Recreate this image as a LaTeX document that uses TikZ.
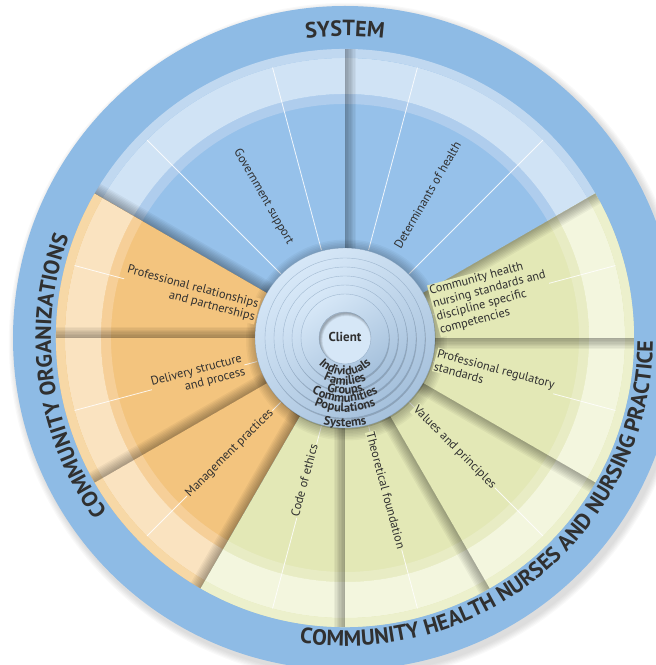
\documentclass[tikz,border=0pt]{standalone}
\usepackage{fontspec}
\setmainfont{PT Sans}
\usetikzlibrary{decorations.text}
\definecolor{ringblue}{HTML}{8EBBE5}
\definecolor{sbM}{HTML}{96C1EA}
\definecolor{sbA}{HTML}{C0D8F0}
\definecolor{sbB}{HTML}{D0E3F5}
\definecolor{sbC}{HTML}{AFCDED}
\definecolor{coM}{HTML}{F3C47E}
\definecolor{coA}{HTML}{F7D8A6}
\definecolor{coB}{HTML}{FAE3C0}
\definecolor{coC}{HTML}{F6CF98}
\definecolor{cgM}{HTML}{E3E8B6}
\definecolor{cgA}{HTML}{ECF0CC}
\definecolor{cgB}{HTML}{F3F6DE}
\definecolor{cgC}{HTML}{E8ECC4}
\definecolor{txt}{HTML}{303030}
\definecolor{discA}{HTML}{D6E7F7}
\definecolor{discB}{HTML}{A6C1DC}
\definecolor{discEdge}{HTML}{7A96B4}
\newcommand\annsec[5]{\fill[#1] (#2:#5pt) arc[start angle=#2,end angle=#3,radius=#5pt] -- (#3:#4pt) arc[start angle=#3,end angle=#2,radius=#4pt] -- cycle;}
\newcommand\wedgefill[3]{\annsec{#3M}{#1}{#2}{60}{289}\annsec{#3C}{#1}{#2}{234}{244}\annsec{#3B}{#1}{#2}{244}{280}\annsec{#3A}{#1}{#2}{280}{289}}
\newcommand\bshadow[1]{\begin{scope}[rotate=#1]\foreach \k in {1,...,8}{\fill[black,opacity=0.045] (60pt,0pt) rectangle (289pt,{-\k*1.4pt});}\end{scope}}
\newcommand\wline[1]{\draw[white,line width=0.8pt,opacity=0.85] (#1:91pt) -- (#1:280pt);}
\newcommand\cfont{\bfseries\fontsize{12.5}{12.5}\selectfont}
\newcommand\rfont{\bfseries\fontsize{22}{22}\selectfont}
\tikzset{
  lab/.style={font=\fontsize{12.3}{13.5}\selectfont, text=txt, inner sep=1pt, align=center},
}
\begin{document}
\begin{tikzpicture}[x=1pt,y=1pt]
\useasboundingbox (0,0) rectangle (656,665);
\clip (0,0) rectangle (656,665);
\begin{scope}[shift={(345,327)}]
% soft shadow of the whole wheel
\foreach \k in {1,...,6}{\fill[black,opacity=0.025] (3pt,-4pt) circle[radius={332pt+\k*1.2pt}];}
% outer ring
\fill[ringblue] (0,0) circle[radius=332pt];
% wedges
\wedgefill{30}{150}{sb}
\wedgefill{150}{240}{co}
\wedgefill{240}{390}{cg}
% shadows at major boundaries
\foreach \a in {30,90,150,180,210,240,270,300,330,360}{\bshadow{\a}}
% thin white lines
\foreach \a in {45,75,105,135,165,195,225,255,285,315,345,15}{\wline{\a}}
% disc drop shadow
\foreach \k in {1,...,7}{\fill[black,opacity=0.035] (1.5pt,-2pt) circle[radius={90pt+\k*1.5pt}];}
% stacked discs
\foreach \r in {90,80,71,62,53,44}{
  \fill[black,opacity=0.16] (0.8pt,-1.6pt) circle[radius=\r pt];
  \shade[top color=discA,bottom color=discB,shading angle=35] (0,0) circle[radius=\r pt];
  \draw[discEdge,line width=0.4pt,opacity=0.55] (0,0) circle[radius=\r pt];
}
% client hole
\fill[discA] (0,0) circle[radius=26pt];
\begin{scope}
  \clip (0,0) circle[radius=26pt];
  \foreach \k in {1,...,6}{\draw[black,opacity=0.05,line width={\k*1pt}] (1.5pt,-2pt) circle[radius=27pt];}
\end{scope}
\draw[discEdge,line width=0.4pt,opacity=0.6] (0,0) circle[radius=26pt];
\node[font=\bfseries\fontsize{13}{13}\selectfont, text=txt, inner sep=0pt] (client) at (0,1pt) {Client};
% curved centre labels
\path[decorate,decoration={text along path,text={|\cfont|Individuals},text align=center,text color=txt}] (190:37pt) arc[start angle=190,end angle=350,radius=37pt];
\path[decorate,decoration={text along path,text={|\cfont|Families},text align=center,text color=txt}] (200:47pt) arc[start angle=200,end angle=340,radius=47pt];
\path[decorate,decoration={text along path,text={|\cfont|Groups},text align=center,text color=txt}] (200:56pt) arc[start angle=200,end angle=340,radius=56pt];
\path[decorate,decoration={text along path,text={|\cfont|Communities},text align=center,text color=txt}] (200:64pt) arc[start angle=200,end angle=340,radius=64pt];
\path[decorate,decoration={text along path,text={|\cfont|Populations},text align=center,text color=txt}] (200:74pt) arc[start angle=200,end angle=340,radius=74pt];
\path[decorate,decoration={text along path,text={|\cfont|Systems},text align=center,text color=txt}] (210:89pt) arc[start angle=210,end angle=330,radius=89pt];
% wedge labels
\node[lab, rotate=-60] (govt) at (120:163pt) {Government support};
\node[lab, rotate=60] (deter) at (60:165pt) {Determinants of health};
\node[lab, fill=coM, align=right, rotate=-15] (profrel) at (164:160pt) {Professional relationships\\and partnerships};
\node[lab, fill=coM, align=right, rotate=15] (deliv) at (195:152pt) {Delivery structure\\and process};
\node[lab, fill=coM, rotate=45] (manag) at (225:163pt) {Management practices};
\node[lab, fill=cgM, rotate=75] (ethics) at (254:148pt) {Code of ethics};
\node[lab, fill=cgM, rotate=-75] (theor) at (285:158pt) {Theoretical foundation};
\node[lab, fill=cgM, rotate=-45] (values) at (315:155pt) {Values and principles};
\node[lab, fill=cgM, align=left, rotate=-15] (profreg) at (346:154pt) {Professional regulatory\\standards};
\node[lab, fill=cgM, align=left, rotate=15] (chn) at (16:152pt) {Community health\\nursing standards and\\discipline specific\\competencies};
% ring titles
\path[decorate,decoration={text along path,text={|\rfont|SYSTEM},text align=center,text color=txt}] (100:302pt) arc[start angle=100,end angle=80,radius=302pt];
\path[decorate,decoration={text along path,text={|\rfont|COMMUNITY ORGANIZATIONS},text align=center,text color=txt}] (228:294pt) arc[start angle=228,end angle=148,radius=294pt];
\path[decorate,decoration={text along path,text={|\rfont|COMMUNITY HEALTH NURSES AND NURSING PRACTICE},text align=center,text color=txt}] (250:308pt) arc[start angle=250,end angle=371,radius=308pt];
\end{scope}
\end{tikzpicture}
\end{document}
